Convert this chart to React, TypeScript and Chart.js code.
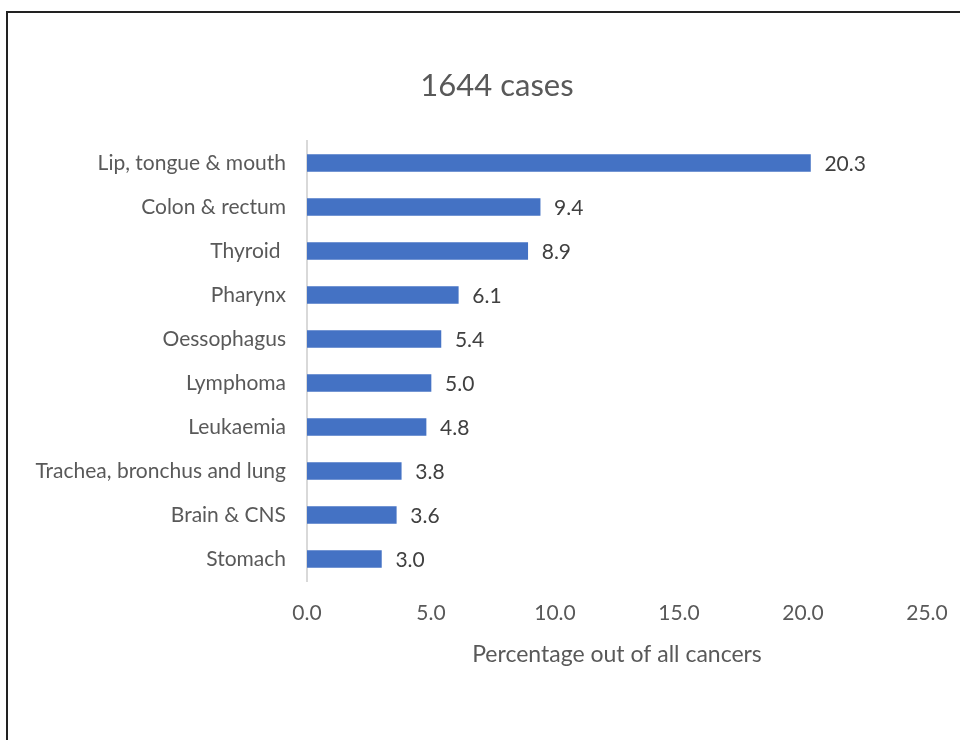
import React, { useEffect, useRef } from "react";
import { Chart, registerables } from "chart.js";

Chart.register(...registerables);

const categories = [
  "Lip, tongue & mouth",
  "Colon & rectum",
  "Thyroid ",
  "Pharynx",
  "Oessophagus",
  "Lymphoma",
  "Leukaemia",
  "Trachea, bronchus and lung",
  "Brain & CNS",
  "Stomach",
];
const values = [20.3, 9.4, 8.9, 6.1, 5.4, 5.0, 4.8, 3.8, 3.6, 3.0];
const chartTitle = "1644 cases";
const xAxisTitle = "Percentage out of all cancers";
const xMin = 0;
const xMax = 25;
const xStep = 5;

const FONT = "Lato, 'Open Sans', sans-serif";
const TEXT = "#595959";

const titlePlugin = {
  id: "customTitle",
  afterDraw(chart: any) {
    const ctx = chart.ctx;
    ctx.save();
    ctx.font = `31px ${FONT}`;
    ctx.fillStyle = TEXT;
    ctx.textAlign = "center";
    ctx.textBaseline = "middle";
    ctx.fillText(chartTitle, 497, 86);
    ctx.restore();
  },
};

const valueLabelPlugin = {
  id: "valueLabels",
  afterDatasetsDraw(chart: any) {
    const ctx = chart.ctx;
    const meta = chart.getDatasetMeta(0);
    ctx.save();
    ctx.font = `21px ${FONT}`;
    ctx.fillStyle = "#404040";
    ctx.textAlign = "left";
    ctx.textBaseline = "middle";
    meta.data.forEach((bar: any, i: number) => {
      ctx.fillText(values[i].toFixed(1), bar.x + 14, bar.y + 1);
    });
    ctx.restore();
  },
};

export default function App() {
  const ref = useRef<HTMLCanvasElement>(null);
  useEffect(() => {
    if (!ref.current) return;
    const chart = new Chart(ref.current, {
      type: "bar",
      data: {
        labels: categories,
        datasets: [
          {
            data: values,
            backgroundColor: "#4472C4",
            borderWidth: 0,
            barThickness: 17,
          },
        ],
      },
      options: {
        indexAxis: "y",
        animation: false,
        responsive: false,
        maintainAspectRatio: false,
        layout: { padding: { top: 141, right: 33, left: 0, bottom: 0 } },
        plugins: {
          legend: { display: false },
          title: { display: false },
          tooltip: { enabled: false },
        },
        scales: {
          y: {
            grid: { display: false, drawTicks: false },
            border: { display: true, color: "#d9d9d9", width: 2 },
            ticks: {
              color: TEXT,
              font: { family: FONT, size: 21 },
              padding: 21,
            },
            afterFit(scale: any) {
              scale.width = 307;
              scale.paddingTop = 0;
              scale.paddingBottom = 0;
            },
          },
          x: {
            min: xMin,
            max: xMax,
            grid: { display: false, drawTicks: false },
            border: { display: false },
            ticks: {
              stepSize: xStep,
              color: TEXT,
              font: { family: FONT, size: 21 },
              padding: 20,
              maxRotation: 0,
              callback: (v: any) => Number(v).toFixed(1),
            },
            title: {
              display: true,
              text: xAxisTitle,
              color: TEXT,
              font: { family: FONT, size: 23 },
              padding: { top: 0, bottom: 72 },
            },
            afterFit(scale: any) {
              scale.height = 159;
              scale.paddingLeft = 0;
              scale.paddingRight = 0;
            },
          },
        },
      },
      plugins: [titlePlugin, valueLabelPlugin],
    });
    return () => chart.destroy();
  }, []);

  return (
    <div
      style={{
        position: "fixed",
        left: 0,
        top: 0,
        width: 960,
        height: 740,
        background: "#fff",
        overflow: "hidden",
      }}
    >
      <div
        style={{
          position: "absolute",
          left: 6,
          top: 11,
          width: 1000,
          height: 1000,
          borderLeft: "2px solid #222",
          borderTop: "2px solid #222",
        }}
      />
      <canvas
        ref={ref}
        width={960}
        height={740}
        style={{ position: "absolute", left: 0, top: 0, width: 960, height: 740 }}
      />
    </div>
  );
}
